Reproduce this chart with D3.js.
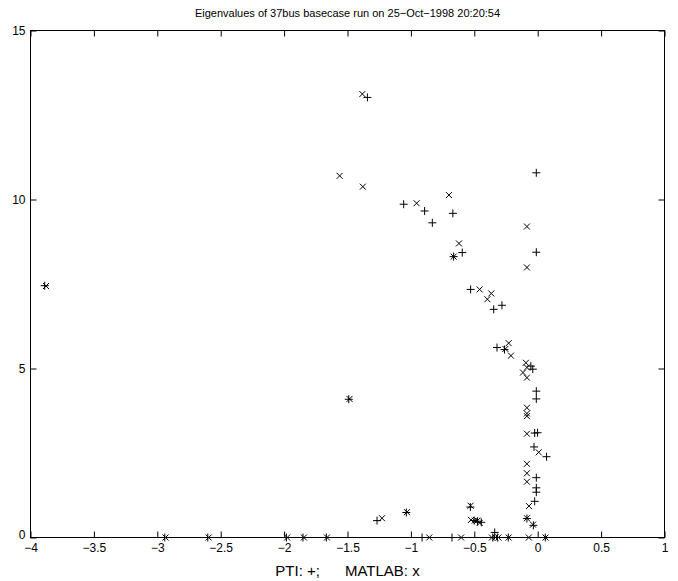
<!DOCTYPE html>
<html>
<head>
<meta charset="utf-8">
<script src="https://cdn.jsdelivr.net/npm/d3@7"></script>
<style>
  html, body { margin: 0; padding: 0; background: #fff; }
  svg { display: block; }
  text { font-family: "Liberation Sans", Arial, Helvetica, sans-serif; fill: #000; }
</style>
</head>
<body>
<svg id="chart" width="678" height="581"></svg>
<script>
// ---- data (real part, imaginary part) ----
const titleText = "Eigenvalues of 37bus basecase run on 25\u2212Oct\u22121998 20:20:54";
const xLabelText = "PTI: +;      MATLAB: x";
const xTicks = [-4, -3.5, -3, -2.5, -2, -1.5, -1, -0.5, 0, 0.5, 1];
const yTicks = [0, 5, 10, 15];

// PTI eigenvalues, drawn as "+"
const ptiReal = [-3.888, -2.941, -2.602, -1.982, -1.851, -1.667, -1.490, -1.267, -1.036, -0.912,
  -0.676, -0.531, -0.501, -0.475, -0.445, -0.339, -0.354, -0.318, -0.232, 0.060,
  -0.085, -0.034, -0.024, -0.011, -0.011, -0.011, 0.070, -0.029, -0.024, -0.001,
  -0.011, -0.011, -0.054, -0.039, -0.262, -0.321, -0.347, -0.282, -0.529, -0.595,
  -0.663, -0.669, -0.831, -0.892, -1.057, -1.343, -0.011, -0.011];
const ptiImag = [7.45, 0, 0, 0, 0, 0, 4.09, 0.50, 0.74, 0,
  0, 0.90, 0.50, 0.48, 0.45, 0.15, 0, 0, 0, 0,
  0.56, 0.36, 1.07, 1.34, 1.47, 1.77, 2.39, 2.68, 3.09, 3.10,
  4.10, 4.33, 5.07, 4.98, 5.56, 5.62, 6.75, 6.87, 7.34, 8.43,
  8.31, 9.59, 9.31, 9.66, 9.86, 13.02, 10.79, 8.44];

// MATLAB eigenvalues, drawn as "x"
const matReal = [-3.878, -2.935, -2.595, -1.976, -1.844, -1.662, -1.484, -1.228, -1.031, -0.855,
  -0.604, -0.529, -0.526, -0.496, -0.475, -0.458, -0.361, -0.333, -0.310, -0.229,
  -0.070, 0.062, -0.085, -0.037, -0.069, -0.085, -0.085, -0.085, 0.008, -0.085,
  -0.085, -0.085, -0.085, -0.085, -0.116, -0.085, -0.093, -0.211, -0.255, -0.229,
  -0.397, -0.366, -0.458, -0.085, -0.621, -0.663, -0.085, -0.700, -0.955, -1.379,
  -1.562, -1.383];
const matImag = [7.44, 0, 0, 0, 0, 0, 4.10, 0.57, 0.75, 0,
  0, 0.94, 0.52, 0.50, 0.50, 0.43, 0, 0, 0, 0,
  0, 0, 0.57, 0.38, 0.93, 1.65, 1.90, 2.18, 2.52, 3.07,
  3.59, 3.67, 3.84, 4.73, 4.88, 5.03, 5.17, 5.38, 5.58, 5.75,
  7.05, 7.22, 7.34, 7.99, 8.70, 8.31, 9.20, 10.13, 9.89, 10.38,
  10.70, 13.12];

// ---- layout ----
const L = 30.5, R = 664.5, T = 30.5, B = 537.5;

const svg = d3.select("#chart");
const x = d3.scaleLinear().domain([-4, 1]).range([L, R]);
const y = d3.scaleLinear().domain([0, 15]).range([B, T]);

const fmt = v => d3.format("")(v);

const gB = svg.append("g").attr("transform", `translate(0,${B})`)
  .call(d3.axisBottom(x).tickValues(xTicks).tickSize(-6).tickPadding(6).tickFormat(fmt));
const gT = svg.append("g").attr("transform", `translate(0,${T})`)
  .call(d3.axisTop(x).tickValues(xTicks).tickSize(-6).tickFormat(""));
const gL = svg.append("g").attr("transform", `translate(${L},0)`)
  .call(d3.axisLeft(y).tickValues(yTicks).tickSize(-6).tickPadding(5).tickFormat(fmt));
const gR = svg.append("g").attr("transform", `translate(${R},0)`)
  .call(d3.axisRight(y).tickValues(yTicks).tickSize(-6).tickFormat(""));

[gB, gT, gL, gR].forEach(g => {
  g.select(".domain").remove();
  g.selectAll(".tick line").attr("stroke", "#000").attr("stroke-width", 1);
  g.selectAll(".tick text").attr("font-size", 12)
    .attr("font-family", "'Liberation Sans', Arial, Helvetica, sans-serif").attr("fill", "#000");
});
// nudge the y "0" label up slightly so it does not collide with the "−4" label
gL.selectAll(".tick text").filter(d => d === 0).attr("dy", "0.1em");

svg.append("rect").attr("x", L).attr("y", T).attr("width", R - L).attr("height", B - T)
  .attr("fill", "none").attr("stroke", "#000").attr("stroke-width", 1);

const plusPath = "M-4,0H4M0,-4V4";
const crossPath = "M-3,-3L3,3M-3,3L3,-3";

const pti = ptiReal.map((r, i) => ({ r, im: ptiImag[i] }));
const mat = matReal.map((r, i) => ({ r, im: matImag[i] }));

svg.append("g").selectAll("path").data(pti).join("path")
  .attr("d", plusPath)
  .attr("transform", d => `translate(${x(d.r)},${y(d.im)})`)
  .attr("fill", "none").attr("stroke", "#000").attr("stroke-width", 1);

svg.append("g").selectAll("path").data(mat).join("path")
  .attr("d", crossPath)
  .attr("transform", d => `translate(${x(d.r)},${y(d.im)})`)
  .attr("fill", "none").attr("stroke", "#000").attr("stroke-width", 1);

svg.append("text").attr("x", (L + R) / 2).attr("y", 17).attr("text-anchor", "middle")
  .attr("font-size", 11).text(titleText);
svg.append("text").attr("x", (L + R) / 2).attr("y", 576).attr("text-anchor", "middle")
  .attr("font-size", 15).attr("xml:space", "preserve").style("white-space", "pre").text(xLabelText);
</script>
</body>
</html>
